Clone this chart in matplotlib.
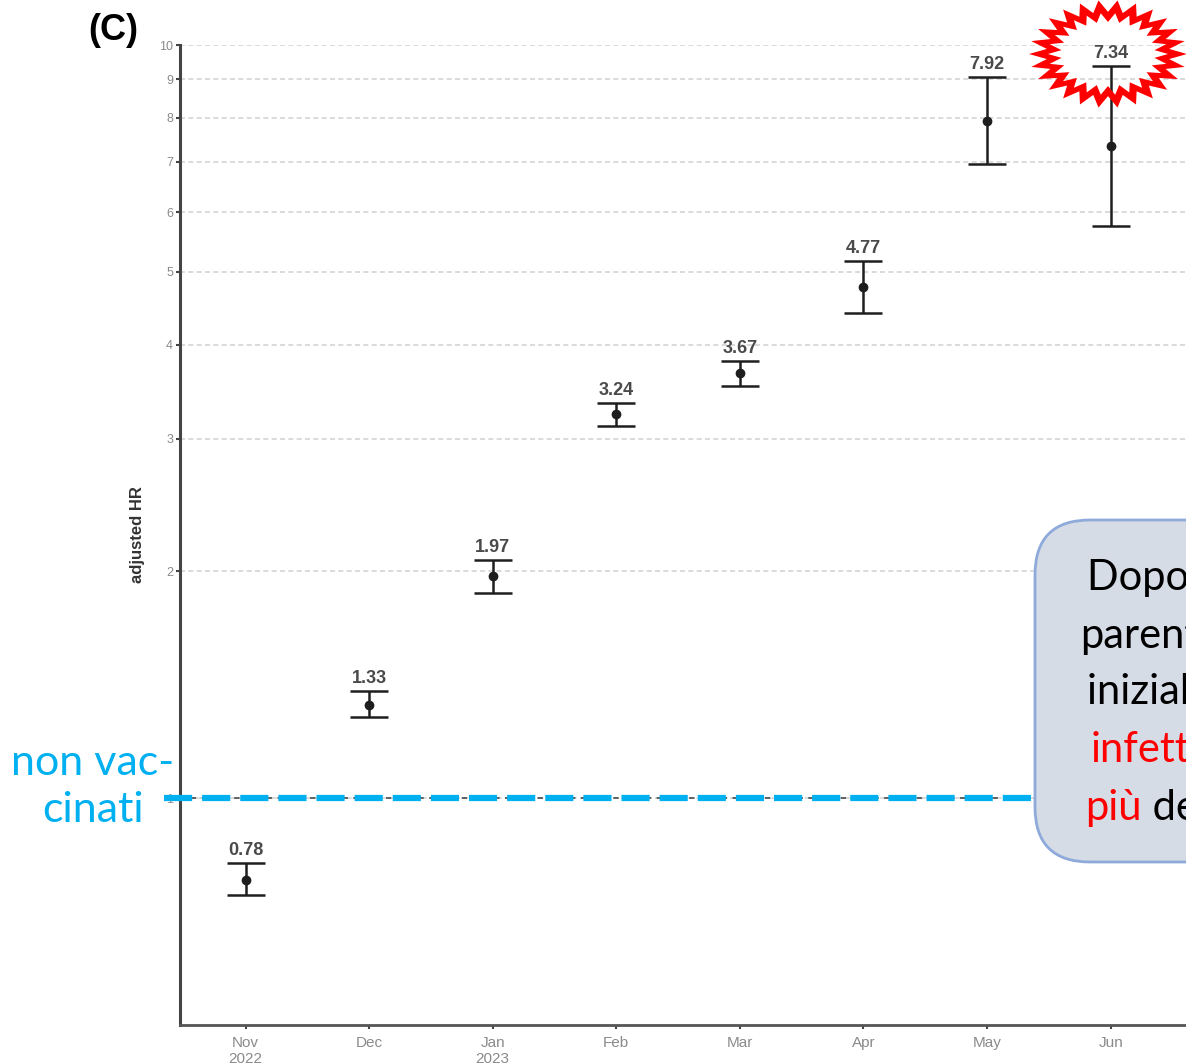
import matplotlib.pyplot as plt
import numpy as np
from matplotlib.patches import FancyBboxPatch, PathPatch
from matplotlib.path import Path
from matplotlib.text import Annotation
from matplotlib.ticker import NullLocator

months = ['Nov\n2022', 'Dec', 'Jan\n2023', 'Feb', 'Mar', 'Apr', 'May', 'Jun']
hr = [0.78, 1.33, 1.97, 3.24, 3.67, 4.77, 7.92, 7.34]
hr_low = [0.744, 1.28, 1.87, 3.12, 3.53, 4.41, 6.95, 5.75]
hr_high = [0.82, 1.386, 2.07, 3.35, 3.81, 5.17, 9.07, 9.38]
y_ticks = [1, 2, 3, 4, 5, 6, 7, 8, 9, 10]

W, H = 1186, 1063
fig = plt.figure(figsize=(W / 100, H / 100), dpi=100)
ax = fig.add_axes([180 / W, 1 - 1025 / H, 1 - 180 / W, (1025 - 45) / H])

x = np.arange(len(months))
hr = np.array(hr)
err = [hr - np.array(hr_low), np.array(hr_high) - hr]

ax.set_yscale('log')
ax.set_ylim(0.5, 10)
ax.set_xlim(-0.53, 7.61)
ax.set_yticks(y_ticks)
ax.set_yticklabels([str(t) for t in y_ticks])
ax.yaxis.set_minor_locator(NullLocator())
ax.set_xticks(x)
ax.set_xticklabels(months)

ax.yaxis.grid(True, color='#d4d4d4', linestyle=(0, (3, 2)), lw=1.2)
ax.set_axisbelow(True)
ax.axhline(1, color='#555555', lw=1.3, ls=(0, (3, 3)), zorder=1)

ax.errorbar(x, hr, yerr=err, fmt='o', color='#1e1e1e', ms=6, capsize=14,
            elinewidth=1.8, capthick=1.8, zorder=3)
for xi, v, top in zip(x, hr, hr_high):
    ax.annotate(f'{v:.2f}', (xi, top), xytext=(0, 3), textcoords='offset points',
                ha='center', va='bottom', fontsize=13, fontweight='bold',
                color='#4a4a4a', family='Liberation Sans')

# riferimento non vaccinati
ax.plot([-0.66, 6.5], [1, 1], color='#00b0f0', lw=4.5, dashes=(4.5, 1.6),
        clip_on=False, zorder=5)

ax.spines['top'].set_visible(False)
ax.spines['right'].set_visible(False)
ax.spines['left'].set_linewidth(2.2)
ax.spines['left'].set_color('#444444')
ax.spines['bottom'].set_linewidth(2.0)
ax.spines['bottom'].set_color('#555555')
ax.tick_params(axis='y', length=3, width=1.5, colors='#444444', labelsize=9,
               labelcolor='#8a8a8a', pad=2)
ax.tick_params(axis='x', length=3, width=1.5, colors='#444444', labelsize=11,
               labelcolor='#8a8a8a', pad=5)
for lab in ax.get_xticklabels() + ax.get_yticklabels():
    lab.set_family('Liberation Sans')
ax.set_ylabel('adjusted HR', fontsize=12, color='#333333', labelpad=10,
              family='Liberation Sans', fontweight='bold')

fig.text(88 / W, 1 - 30 / H, '(C)', fontsize=26, fontweight='bold',
         family='Liberation Sans', va='center', ha='left')

fig.text(93 / W, 1 - 775 / H, 'non vac-', color='#00b0f0', fontsize=31,
         ha='center', va='baseline', family='Lato')
fig.text(93 / W, 1 - 822 / H, 'cinati', color='#00b0f0', fontsize=31,
         ha='center', va='baseline', family='Lato')

# riquadro con il commento
inch = fig.dpi_scale_trans
box = FancyBboxPatch((10.35, (H - 862) / 100), 3.0, 3.42,
                     boxstyle='round,pad=0,rounding_size=0.55',
                     facecolor='#d6dce5', edgecolor='#8eaadb', lw=2,
                     transform=inch, zorder=10)
fig.patches.append(box)

lines = [('Dopo una breve', 1087, 578, 'black'),
         ('parentesi', 1080, 636, 'black'),
         ('iniziale i vaccinati', 1087, 692, 'black'),
         ('infettati', 1091, 750, 'red')]
for s, px, py, c in lines:
    fig.text(px / W, 1 - py / H, s, color=c, fontsize=30, family='Lato',
             ha='left', va='center', zorder=11)
t = fig.text(1085 / W, 1 - 808 / H, 'più', color='red', fontsize=30,
             family='Lato', ha='left', va='center', zorder=11)
fig.add_artist(Annotation(' dei non vaccinati', xy=(1, 0), xycoords=t,
                          ha='left', va='bottom', fontsize=30, family='Lato',
                          color='black', zorder=11))

# stella rossa intorno al valore di giugno
n = 26
ang = np.linspace(0, 2 * np.pi, 2 * n, endpoint=False)
rad = np.where(np.arange(2 * n) % 2 == 0, 1.0, 0.78)
cx, cy = 11.08, (H - 54) / 100
rx, ry = 0.79, 0.54
outer = np.column_stack([cx + rx * rad * np.cos(ang), cy + ry * rad * np.sin(ang)])
inner = np.column_stack([cx + rx * 0.76 * rad * np.cos(ang),
                         cy + ry * 0.76 * rad * np.sin(ang)])[::-1]
verts = np.vstack([outer, outer[:1], inner, inner[:1]])
codes = ([Path.MOVETO] + [Path.LINETO] * (2 * n - 1) + [Path.CLOSEPOLY]) * 2
star = PathPatch(Path(verts, codes), facecolor='red', edgecolor='none',
                 transform=inch, zorder=12)
fig.patches.append(star)

fig.savefig('out.png', dpi=100)
